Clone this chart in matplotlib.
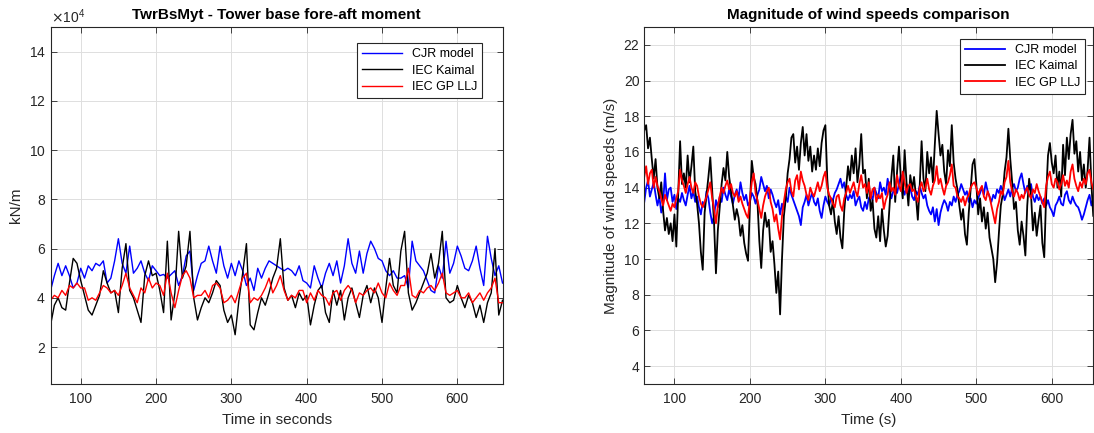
import numpy as np
import matplotlib
matplotlib.use("Agg")
import matplotlib.pyplot as plt
from matplotlib.ticker import ScalarFormatter

plt.rcParams["font.family"] = ["Liberation Sans", "DejaVu Sans"]

# === Tower base fore-aft moment (x1e4 kN/m), one value every 5 s from 60 to 660 s
moment_cjr = [
    4.3, 4.9, 5.4, 4.9, 5.3, 4.9, 4.4, 4.6, 5.2, 4.8,
    5.3, 5.1, 5.4, 5.3, 5.5, 4.6, 4.8, 5.5, 6.4, 5.4,
    5.0, 6.1, 5.0, 5.2, 5.5, 5.0, 4.7, 5.3, 5.1, 4.9,
    4.95, 4.8, 4.95, 5.1, 4.5, 4.9, 5.7, 5.9, 4.3, 4.9,
    5.4, 5.5, 6.1, 5.5, 5.0, 6.1, 5.3, 4.8, 5.4, 4.9,
    5.5, 5.1, 4.5, 4.8, 4.3, 5.2, 4.8, 5.2, 5.5, 5.4,
    5.3, 5.2, 5.1, 5.2, 5.1, 4.9, 5.3, 4.7, 4.6, 4.4,
    5.3, 4.8, 4.4, 5.0, 5.4, 4.9, 5.5, 4.6, 5.3, 6.4,
    5.4, 5.0, 5.9, 5.0, 5.8, 6.3, 6.0, 5.6, 5.5, 5.1,
    4.9, 5.1, 4.8, 4.8, 4.9, 4.4, 6.3, 5.5, 5.3, 5.1,
    4.7, 4.3, 4.2, 5.3, 4.8, 6.3, 5.0, 5.4, 6.1, 5.7,
    5.2, 5.1, 5.5, 6.1, 5.2, 4.5, 6.5, 5.6, 4.9, 5.3,
    4.6,
]
moment_kaimal = [
    2.9, 3.7, 4.0, 3.6, 3.5, 4.6, 5.6, 5.4, 4.7, 4.1,
    3.5, 3.3, 3.7, 4.1, 5.1, 4.6, 4.2, 4.3, 3.4, 5.2,
    6.2, 4.3, 4.0, 3.5, 3.0, 4.9, 5.5, 4.9, 5.0, 4.3,
    3.4, 6.3, 3.1, 4.2, 6.7, 4.8, 5.3, 6.7, 4.0, 3.1,
    3.6, 4.0, 3.8, 4.2, 4.7, 4.5, 3.5, 3.0, 3.3, 2.5,
    3.9, 5.0, 6.2, 2.9, 2.7, 3.4, 4.0, 3.7, 4.2, 4.8,
    5.2, 6.4, 4.4, 3.9, 4.1, 3.6, 4.2, 3.9, 4.1, 2.9,
    3.7, 4.3, 4.5, 3.4, 3.0, 4.3, 3.7, 4.3, 3.1, 4.0,
    4.4, 3.8, 3.2, 4.1, 4.5, 3.8, 4.4, 4.0, 3.0, 4.4,
    5.6, 4.5, 4.2, 5.9, 6.7, 4.2, 3.5, 3.8, 4.2, 4.6,
    5.0, 5.8, 4.8, 5.4, 6.7, 4.0, 3.8, 3.9, 4.5, 4.0,
    3.6, 4.1, 3.8, 3.2, 3.7, 3.0, 3.8, 4.2, 6.0, 3.3,
    3.9,
]
moment_llj = [
    3.9, 4.1, 4.0, 4.3, 4.1, 4.5, 4.4, 4.6, 4.4, 4.4,
    3.9, 4.0, 3.9, 4.2, 4.5, 4.4, 4.2, 4.3, 4.1, 4.5,
    5.0, 4.4, 4.1, 3.8, 4.4, 4.2, 4.8, 4.4, 4.6, 4.5,
    4.1, 5.0, 4.2, 3.6, 4.3, 4.9, 5.1, 4.8, 4.0, 4.1,
    4.1, 4.3, 4.0, 4.5, 4.6, 4.4, 3.8, 3.9, 4.1, 3.8,
    4.3, 4.8, 5.0, 3.8, 4.0, 3.9, 4.1, 4.4, 4.8, 4.2,
    4.5, 4.9, 4.3, 3.9, 4.1, 4.0, 4.3, 4.3, 3.8, 4.2,
    3.9, 4.3, 4.1, 4.0, 3.7, 4.2, 4.3, 3.9, 4.3, 4.5,
    4.3, 3.8, 4.2, 4.1, 4.3, 4.4, 4.2, 4.6, 4.2, 4.0,
    4.6, 4.3, 4.1, 4.5, 4.5, 5.2, 4.1, 4.0, 4.3, 4.2,
    4.4, 4.5, 4.3, 4.6, 5.0, 4.2, 4.1, 4.2, 4.3, 4.0,
    4.0, 4.2, 3.8, 4.0, 4.2, 3.9, 4.2, 4.4, 4.8, 3.8,
    3.8,
]

# === Wind speed magnitude (m/s), one value every 2.5 s from 60 to 660 s
wind_cjr = [
    13.2, 14.0, 14.4, 13.5, 13.9, 14.3, 13.6, 13.0, 13.5, 12.6,
    13.1, 14.8, 13.3, 13.9, 14.0, 13.2, 13.6, 12.8, 13.4, 13.2,
    13.7, 13.3, 13.0, 13.6, 14.1, 13.4, 13.8, 13.2, 13.5, 12.9,
    12.5, 13.2, 12.9, 13.8, 13.4, 12.6, 12.0, 12.4, 13.3, 12.9,
    13.5, 13.2, 14.0, 13.6, 13.3, 13.9, 13.5, 13.1, 13.6, 13.9,
    13.4, 14.3, 13.7, 13.3, 13.6, 13.0, 13.2, 13.7, 13.5, 13.1,
    13.6, 13.9, 14.6, 14.2, 13.8, 14.1, 13.4, 13.9, 13.6, 13.2,
    12.9, 13.3, 12.5, 13.1, 12.8, 13.5, 13.2, 14.0, 13.6, 13.3,
    13.0, 12.7, 12.4, 11.9, 12.9, 13.2, 13.6, 13.0, 13.4, 13.7,
    13.2, 13.0, 13.4, 12.7, 12.3, 13.0, 13.5, 13.2, 13.0, 13.4,
    13.3, 13.7, 13.9, 14.2, 14.5, 14.0, 14.3, 13.6, 13.3, 13.6,
    13.4, 13.8, 13.0, 13.3, 13.5, 12.9, 12.7, 13.2, 12.8, 13.4,
    13.6, 13.3, 14.0, 13.7, 13.4, 14.3, 13.8, 14.0, 13.6, 14.5,
    13.9, 13.4, 13.8, 14.1, 13.7, 14.2, 14.7, 13.9, 13.6, 14.2,
    13.8, 14.0, 13.5, 13.3, 13.8, 13.6, 14.1, 13.7, 13.4, 13.6,
    13.0, 12.7, 12.5, 12.9, 12.1, 12.8, 11.9, 12.6, 13.0, 13.3,
    13.1, 12.7, 13.2, 13.0, 13.5, 13.2, 13.6, 13.8, 14.2, 13.9,
    13.6, 13.8, 13.2, 13.4, 12.9, 13.3, 13.1, 13.4, 13.7, 14.0,
    13.6, 14.3, 13.8, 13.5, 13.2, 13.6, 13.4, 13.9, 13.7, 14.1,
    13.8, 13.3, 13.6, 13.9, 13.5, 14.0, 14.2, 13.8, 14.0, 14.5,
    14.8, 14.2, 13.7, 14.1, 13.9, 14.2, 13.5, 13.2, 13.6, 13.3,
    13.5, 13.1, 13.4, 13.0, 13.3, 12.9, 12.7, 12.4, 13.0, 13.2,
    13.5, 13.1, 13.0, 13.6, 13.8, 13.3, 13.1, 13.5, 13.2, 13.0,
    12.9, 12.6, 12.2, 12.5, 12.9, 13.3, 13.6, 13.0, 13.4, 13.2,
    13.5,
]
wind_kaimal = [
    17.2, 17.5, 16.2, 16.8, 15.6, 14.5, 15.6, 14.0, 13.4, 14.3,
    12.7, 11.6, 12.3, 11.4, 12.0, 11.0, 12.5, 10.7, 13.6, 16.6,
    14.2, 14.8, 14.0, 15.8, 14.3, 15.2, 16.3, 13.8, 13.1, 12.0,
    10.4, 9.4, 12.6, 13.6, 14.6, 15.7, 13.8, 12.0, 9.2, 11.6,
    12.9, 14.2, 15.1, 14.4, 16.0, 14.6, 13.8, 13.0, 12.2, 12.8,
    12.3, 11.3, 11.9, 10.9, 10.3, 9.9, 13.0, 15.5, 14.6, 14.2,
    13.2, 11.0, 9.5, 11.6, 12.6, 11.8, 12.2, 10.4, 11.0, 9.7,
    8.1, 9.3, 6.9, 10.0, 12.4, 13.4, 14.8, 15.6, 16.8, 17.0,
    15.4, 16.3, 15.0, 16.5, 17.4, 15.8, 17.0, 15.5, 16.3, 14.9,
    15.8, 15.0, 16.2, 15.2, 16.5, 17.2, 17.5, 14.5, 13.0, 12.5,
    13.3, 12.1, 11.4, 12.4, 11.2, 10.6, 12.7, 14.0, 15.2, 14.4,
    15.8, 14.8, 16.2, 14.3, 15.3, 17.0, 14.8, 15.0, 13.4, 14.5,
    12.7, 13.3, 11.7, 11.2, 12.4, 11.0, 12.8, 11.6, 10.7, 11.3,
    13.0, 14.6, 15.8, 13.2, 14.9, 16.3, 14.5, 13.4, 16.1, 14.3,
    13.0, 14.7, 13.9, 14.6, 13.5, 12.2, 14.1, 16.6, 14.5, 13.8,
    16.0, 14.8, 15.7, 14.3, 16.4, 18.3, 17.0, 15.8, 16.4, 14.9,
    14.2, 16.1, 15.2, 17.5, 15.4, 14.5, 13.9, 13.0, 12.2, 12.8,
    11.4, 10.8, 12.6, 13.9, 15.3, 15.6, 14.2, 12.5, 13.4, 12.1,
    12.9, 11.7, 12.6, 11.2, 10.6, 10.0, 8.7, 9.8, 11.5, 13.0,
    13.6, 14.9, 15.7, 17.3, 15.6, 14.3, 12.8, 13.2, 11.6, 10.8,
    12.1, 11.3, 10.2, 13.0, 14.5, 13.6, 11.6, 12.6, 11.3, 12.2,
    13.0, 10.9, 10.1, 13.5, 15.8, 16.5, 15.4, 14.8, 15.8, 14.0,
    14.9, 13.5, 16.4, 14.7, 16.8, 15.6, 17.0, 17.8, 15.9, 16.6,
    14.9, 16.0, 14.4, 15.3, 14.0, 15.0, 16.8, 14.2, 12.4, 14.6,
    15.2,
]
wind_llj = [
    14.6, 15.2, 14.2, 14.8, 15.0, 14.0, 14.6, 14.1, 13.8, 13.4,
    13.0, 13.6, 13.3, 13.0, 12.7, 13.1, 12.9, 13.4, 13.8, 15.0,
    14.4, 14.1, 13.7, 14.2, 14.6, 14.0, 13.7, 14.3, 14.1, 13.5,
    13.1, 12.9, 13.2, 13.5, 13.9, 14.3, 13.4, 12.8, 12.0, 13.0,
    13.5, 14.0, 13.7, 14.1, 14.4, 13.9, 14.2, 13.7, 13.5, 13.8,
    13.2, 13.5, 13.1, 12.8, 12.5, 12.3, 13.4, 14.3, 14.8, 13.7,
    13.3, 12.8, 12.3, 13.0, 13.5, 13.8, 14.0, 13.2, 12.8, 12.1,
    12.5, 11.7, 11.1, 12.4, 13.2, 13.9, 14.3, 14.5, 13.8, 13.5,
    14.4, 14.7, 13.9, 14.9, 14.4, 14.1, 13.6, 13.3, 14.0, 13.7,
    13.5, 13.9, 14.3, 13.8, 14.1, 14.6, 14.9, 14.0, 13.6, 13.4,
    13.1, 12.9, 13.5, 13.6, 13.0, 12.7, 13.4, 13.7, 14.1, 13.7,
    14.0, 14.3, 13.8, 13.5, 14.2, 14.7, 14.0, 14.2, 13.7, 14.3,
    13.4, 13.9, 14.0, 13.2, 13.6, 13.4, 13.7, 12.8, 13.3, 13.6,
    14.3, 13.8, 14.0, 13.6, 14.7, 14.1, 13.8, 14.9, 14.3, 13.7,
    14.1, 14.2, 13.8, 13.9, 13.5, 13.2, 14.0, 14.3, 13.8, 14.0,
    14.5, 13.9, 13.6, 14.1, 14.4, 15.2, 14.2, 14.5, 14.0, 13.6,
    14.1, 14.3, 14.7, 15.3, 14.1, 14.0, 13.5, 13.4, 13.2, 13.5,
    13.0, 13.4, 13.6, 14.0, 14.2, 14.3, 14.0, 13.6, 13.9, 14.1,
    13.5, 13.3, 13.8, 13.5, 13.0, 12.5, 12.0, 12.8, 13.2, 13.8,
    13.6, 14.3, 14.6, 15.5, 14.3, 13.8, 13.5, 13.9, 13.7, 13.3,
    13.6, 13.4, 13.8, 14.0, 13.6, 13.4, 13.9, 13.7, 14.2, 13.8,
    13.5, 13.2, 12.9, 14.1, 14.6, 14.9, 14.2, 14.0, 14.5, 14.3,
    13.9, 14.2, 14.7, 14.1, 14.4, 14.0, 14.9, 15.3, 14.5, 14.1,
    13.8, 14.3, 14.0, 14.5, 14.2, 14.8, 15.0, 14.3, 13.9, 14.6,
    14.4,
]

labels = ["CJR model", "IEC Kaimal", "IEC GP LLJ"]
colors = ["#0000ff", "#000000", "#ff0000"]
text_col = "#262626"

fig = plt.figure(figsize=(10.94, 4.33), dpi=100)
ax1 = fig.add_axes([0.04625, 0.1132, 0.4131, 0.8245])
ax2 = fig.add_axes([0.5889, 0.1132, 0.4101, 0.8245])


def style(ax):
    ax.set_axisbelow(True)
    ax.grid(True, color="#dedede", linewidth=0.7)
    ax.tick_params(direction="in", top=True, right=True, length=4, width=0.6,
                   color=text_col, labelcolor=text_col, labelsize=10)
    ax.tick_params(axis="x", pad=5.5)
    for sp in ax.spines.values():
        sp.set_color(text_col)
        sp.set_linewidth(0.8)


# === Left: tower base moment
for series, c, lab in zip([moment_cjr, moment_kaimal, moment_llj], colors, labels):
    y = np.array(series) * 1e4
    t = np.linspace(60, 660, len(y))
    ax1.plot(t, y, color=c, linewidth=1.0, label=lab)
ax1.set_xlim(60, 660)
ax1.set_ylim(0.5e4, 15e4)
ax1.set_xticks([100, 200, 300, 400, 500, 600])
ax1.set_yticks([2e4, 4e4, 6e4, 8e4, 10e4, 12e4, 14e4])
fmt = ScalarFormatter(useMathText=True)
fmt.set_powerlimits((4, 4))
ax1.yaxis.set_major_formatter(fmt)
ax1.yaxis.get_offset_text().set_color("#666666")
ax1.yaxis.get_offset_text().set_fontsize(10)
style(ax1)
ax1.set_title("TwrBsMyt - Tower base fore-aft moment", fontsize=11, fontweight="bold", pad=6)
ax1.set_xlabel("Time in seconds", fontsize=11, color=text_col, labelpad=5)
ax1.set_ylabel("kN/m", fontsize=11, color=text_col, labelpad=4)
leg1 = ax1.legend(loc="upper right", bbox_to_anchor=(0.441, 0.900), bbox_transform=fig.transFigure,
                  borderaxespad=0, fontsize=9, handlelength=3.2, labelspacing=0.35,
                  fancybox=False, framealpha=1, edgecolor=text_col)
leg1.get_frame().set_linewidth(0.8)

# === Right: wind speed magnitude
for series, c, lab in zip([wind_cjr, wind_kaimal, wind_llj], colors, labels):
    t = np.linspace(60, 660, len(series))
    ax2.plot(t, series, color=c, linewidth=1.3, label=lab)
ax2.set_xlim(60, 654.5)
ax2.set_ylim(3, 23)
ax2.set_xticks([100, 200, 300, 400, 500, 600])
ax2.set_yticks(range(4, 23, 2))
style(ax2)
ax2.set_title("Magnitude of wind speeds comparison", fontsize=11, fontweight="bold", pad=6)
ax2.set_xlabel("Time (s)", fontsize=11, color=text_col, labelpad=5)
ax2.set_ylabel("Magnitude of wind speeds (m/s)", fontsize=11, color=text_col, labelpad=4)
leg2 = ax2.legend(loc="upper right", bbox_to_anchor=(0.992, 0.910), bbox_transform=fig.transFigure,
                  borderaxespad=0, fontsize=9, handlelength=3.2, labelspacing=0.35,
                  fancybox=False, framealpha=1, edgecolor=text_col)
leg2.get_frame().set_linewidth(0.8)

fig.savefig("out.png", dpi=100)
